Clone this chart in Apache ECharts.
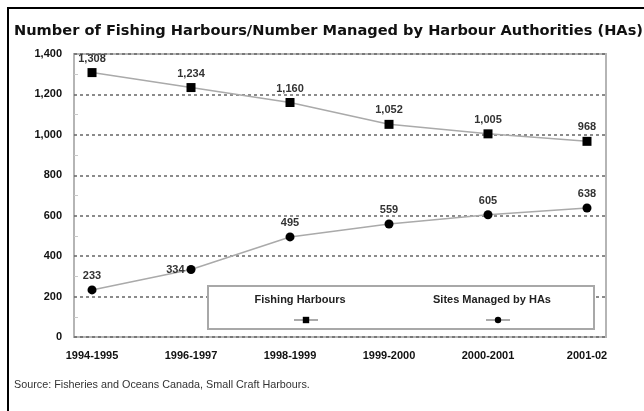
<!DOCTYPE html>
<html>
<head>
<meta charset="utf-8">
<script src="https://cdn.jsdelivr.net/npm/echarts@6/dist/echarts.min.js"></script>
<style>
  html, body { margin: 0; padding: 0; background: #fff; }
  #chart { width: 644px; height: 411px; }
</style>
</head>
<body>
<div id="chart"></div>
<script>
// Fiscal years on the horizontal axis
const years = ['1994-1995', '1996-1997', '1998-1999', '1999-2000', '2000-2001', '2001-02'];
// Number of fishing harbours
const fishingHarbours = [1308, 1234, 1160, 1052, 1005, 968];
// Sites managed by Harbour Authorities
const sitesManaged = [233, 334, 495, 559, 605, 638];
// Vertical axis ticks
const yTicks = [0, 200, 400, 600, 800, 1000, 1200, 1400];
const seriesNames = ['Fishing Harbours', 'Sites Managed by HAs'];

const titleText = 'Number of Fishing Harbours/Number Managed by Harbour Authorities (HAs)';
const sourceText = 'Source: Fisheries and Oceans Canada, Small Craft Harbours.';

const fmt = v => v.toLocaleString('en-US');
const toPoints = arr => arr.map((v, i) => [i, v]);

const chart = echarts.init(document.getElementById('chart'));

const labelStyle = {
  show: true,
  position: 'top',
  distance: 4,
  fontFamily: 'Liberation Sans',
  fontWeight: 'bold',
  fontSize: 11,
  color: '#333',
  formatter: p => fmt(p.value[1])
};

chart.setOption({
  animation: false,
  backgroundColor: '#fff',
  title: [
    {
      text: titleText,
      left: 9,
      top: 19,
      textStyle: { fontFamily: 'DejaVu Sans', fontWeight: 'bold', fontSize: 14.6, color: '#111' }
    },
    {
      text: sourceText,
      left: 9,
      top: 375,
      textStyle: { fontFamily: 'Liberation Sans', fontWeight: 'normal', fontSize: 10.8, color: '#333' }
    }
  ],
  grid: {
    left: 74, right: 38, top: 54, bottom: 74,
    show: true,
    borderColor: '#b5b5b5',
    borderWidth: 2,
    backgroundColor: 'transparent'
  },
  xAxis: {
    type: 'value',
    min: -0.182,
    max: 5.192,
    axisLine: { show: false },
    axisTick: { show: false },
    splitLine: { show: false },
    axisLabel: {
      customValues: years.map((_, i) => i),
      formatter: v => years[v],
      margin: 13,
      fontFamily: 'Liberation Sans',
      fontWeight: 'bold',
      fontSize: 11,
      color: '#111'
    }
  },
  yAxis: {
    type: 'value',
    min: yTicks[0],
    max: yTicks[yTicks.length - 1],
    interval: 200,
    axisLine: { show: false, onZero: false },
    axisTick: { show: false, inside: true },
    minorTick: { show: true, splitNumber: 2, length: 4, lineStyle: { color: '#c8c8c8' } },
    axisLabel: {
      margin: 12,
      fontFamily: 'Liberation Sans',
      fontWeight: 'bold',
      fontSize: 11,
      color: '#111',
      formatter: v => fmt(v)
    },
    splitLine: {
      lineStyle: { color: '#666', width: 1.5, type: [3, 3] }
    }
  },
  legend: [
    {
      data: [seriesNames[0]],
      left: 288, top: 311,
      itemWidth: 24, itemHeight: 8,
      z: 20,
      formatter: () => ''
    },
    {
      data: [seriesNames[1]],
      left: 480, top: 311,
      itemWidth: 24, itemHeight: 8,
      z: 20,
      formatter: () => ''
    }
  ],
  graphic: [
    {
      type: 'rect',
      z: 10,
      shape: { x: 208, y: 286, width: 386, height: 43 },
      style: { fill: '#fff', stroke: '#a8a8a8', lineWidth: 2 }
    },
    {
      type: 'text',
      z: 11,
      x: 300, y: 300,
      style: {
        text: seriesNames[0], align: 'center', verticalAlign: 'middle',
        font: 'bold 11px "Liberation Sans"', fill: '#222'
      }
    },
    {
      type: 'text',
      z: 11,
      x: 492, y: 300,
      style: {
        text: seriesNames[1], align: 'center', verticalAlign: 'middle',
        font: 'bold 11px "Liberation Sans"', fill: '#222'
      }
    },
    {
      type: 'rect',
      z: 30,
      shape: { x: 8, y: 8, width: 700, height: 500 },
      style: { fill: 'none', stroke: '#000', lineWidth: 2 }
    }
  ],
  series: [
    {
      name: seriesNames[0],
      type: 'line',
      data: toPoints(fishingHarbours),
      symbol: 'rect',
      symbolSize: 9,
      itemStyle: { color: '#000' },
      lineStyle: { color: '#aaa', width: 1.5 },
      label: labelStyle
    },
    {
      name: seriesNames[1],
      type: 'line',
      data: toPoints(sitesManaged).map((p, i) =>
        i === 1 ? { value: p, label: { position: 'left', distance: 2 } } : p),
      symbol: 'circle',
      symbolSize: 9,
      itemStyle: { color: '#000' },
      lineStyle: { color: '#aaa', width: 1.5 },
      label: labelStyle
    }
  ]
});
</script>
</body>
</html>
